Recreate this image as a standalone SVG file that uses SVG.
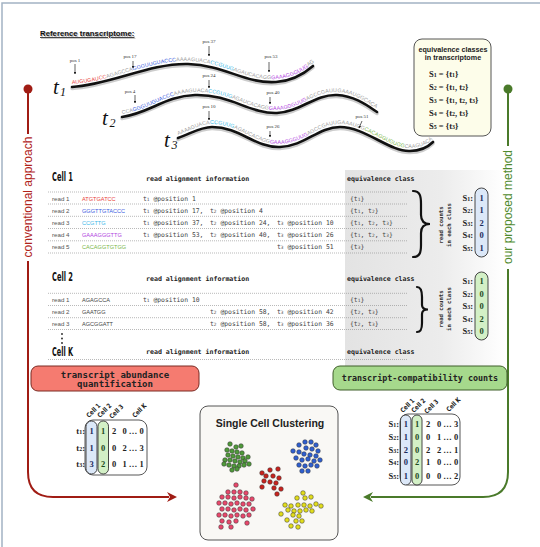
<svg xmlns="http://www.w3.org/2000/svg" width="540" height="547" viewBox="0 0 540 547">
<defs>
<style>
.seq{font-family:"Liberation Sans",Arial,sans-serif;font-size:5.3px;letter-spacing:0.1px;fill:#a0a0a0}
.pos{font-family:"Liberation Serif",serif;font-size:5px;fill:#333;text-anchor:middle}
.parr{stroke:#222;stroke-width:0.7;fill:none;marker-end:url(#sa)}
.tl{font-family:"Liberation Serif",serif;font-style:italic;fill:#111}
.curve{fill:none;stroke:#111;stroke-width:2.6;stroke-linecap:round}
.shadow{fill:none;stroke:#aaa;stroke-width:3.5;stroke-linecap:round;opacity:0.6}
.mono{font-family:"DejaVu Sans Mono","Liberation Mono",monospace;font-size:6.4px;fill:#444}
.hd{font-family:"DejaVu Sans Mono","Liberation Mono",monospace;font-size:6.6px;font-weight:bold;fill:#222}
.cell{font-family:"DejaVu Sans Condensed","DejaVu Sans",sans-serif;font-stretch:condensed;font-weight:bold;font-size:12px;fill:#111}
.rd{font-family:"Liberation Sans",Arial,sans-serif;font-size:6.2px;fill:#555}
.rs{font-family:"Liberation Sans",Arial,sans-serif;font-size:5.6px}
.dl{stroke:#8a8a8a;stroke-width:0.6;stroke-dasharray:1 1;fill:none}
.sub{font-size:70%}
.sv{font-family:"Liberation Serif",serif;font-weight:bold;font-size:8.5px;fill:#222}
.svc{font-family:"Liberation Serif",serif;font-weight:bold;font-size:8.5px;text-anchor:middle}
.rc{font-family:"DejaVu Sans Mono","Liberation Mono",monospace;font-weight:bold;font-size:5.6px;fill:#333;text-anchor:middle}
.brace{fill:none;stroke:#111;stroke-width:2.2;stroke-linecap:round}
.pillb{fill:#dce8f8;stroke:#333;stroke-width:0.9}
.pillg{fill:#d3f0c6;stroke:#333;stroke-width:0.9}
.mtx{fill:#fff;stroke:#444;stroke-width:0.9}
.cl{font-family:"DejaVu Sans Condensed","DejaVu Sans",sans-serif;font-stretch:condensed;font-weight:bold;font-size:6.5px;fill:#222}
.side{font-family:"Liberation Sans",Arial,sans-serif;font-size:12px;text-anchor:middle}
.box{font-family:"DejaVu Sans Mono","Liberation Mono",monospace;font-weight:bold;fill:#222;text-anchor:middle}
.g{fill:#4f9a3a}.b{fill:#2f5fd0}.r{fill:#c8231e}.p{fill:#e9486c}.y{fill:#e2dd1c}
.dots circle{r:2.3px;stroke:#333;stroke-width:0.5}
</style>
<marker id="sa" viewBox="0 0 6 6" refX="5" refY="3" markerWidth="4" markerHeight="4" orient="auto"><path d="M0,0 L6,3 L0,6 z" fill="#222"/></marker>
<marker id="ar" viewBox="0 0 10 10" refX="2" refY="5" markerWidth="5" markerHeight="5" orient="auto"><path d="M0,0 L10,5 L0,10 L3,5 z" fill="#a01c14"/></marker>
<marker id="ag" viewBox="0 0 10 10" refX="2" refY="5" markerWidth="5" markerHeight="5" orient="auto"><path d="M0,0 L10,5 L0,10 L3,5 z" fill="#4a7a2a"/></marker>
<linearGradient id="gp" x1="0" y1="0" x2="1" y2="0"><stop offset="0" stop-color="#e3e3e3"/><stop offset="0.6" stop-color="#ececec"/><stop offset="1" stop-color="#ffffff"/></linearGradient>
<path id="tp1" d="M72,84 C110,82 150,60 188,61 C225,62 245,81 276,79 C293,78 305,70 313,63"/>
<path id="tp2" d="M122,114 C150,110 165,93 195,92 C230,91 250,111 277,110 C300,109 315,91 337,92 C355,93 368,103 377,109"/>
<path id="tp3" d="M178,135 C190,131 200,124 212,124 C240,124 255,145 280,144 C305,143 318,124 340,124 C365,124 390,149 410,148 C420,148 428,144 433,139"/>
</defs>

<rect width="540" height="547" fill="#fff"/>
<path d="M2,547 V3 H540" fill="none" stroke="#a3b3c4" stroke-width="1.5"/>
<rect x="345" y="170" width="160" height="196" fill="url(#gp)"/>

<g id="reference">
<text x="41" y="37" font-family="Liberation Sans,Arial,sans-serif" font-size="7.8" font-weight="bold" fill="#bbb" text-decoration="underline">Reference transcriptome:</text>
<text x="40" y="36" font-family="Liberation Sans,Arial,sans-serif" font-size="7.8" font-weight="bold" fill="#111" text-decoration="underline">Reference transcriptome:</text>
</g>

<g id="t1">
<path class="shadow" d="M72,88.5 C110,86.5 150,64.5 188,65.5 C225,66.5 245,85.5 276,83.5 C293,82.5 305,74.5 313,67.5"/>
<path class="curve" d="M72,87 C110,85 150,63 188,64 C225,65 245,84 276,82 C293,81 305,73 313,66"/>
<text class="seq"><textPath href="#tp1"><tspan fill="#e8403a">AUGUGAUCC</tspan>AGAGCCA<tspan fill="#3a5be0">GGGUUGUACCC</tspan>AAAAGUACA<tspan fill="#3bb8e8">CCGUUG</tspan>AGAUCACAGG<tspan fill="#b03ee0">GAAAGGGUUG</tspan>AGC</textPath></text>
<text class="tl" x="53" y="94" font-size="21">t</text><text class="tl" x="60" y="96" font-size="12" font-style="normal">1</text>
</g>
<g id="t2">
<path class="shadow" d="M122,118.5 C150,114.5 165,97.5 195,96.5 C230,95.5 250,115.5 277,114.5 C300,113.5 315,95.5 337,96.5 C355,97.5 368,107.5 377,113.5"/>
<path class="curve" d="M122,117 C150,113 165,96 195,95 C230,94 250,114 277,113 C300,112 315,94 337,95 C355,96 368,106 377,112"/>
<text class="seq"><textPath href="#tp2">CCA<tspan fill="#3a5be0">GGGUUGUACCC</tspan>AAAAGUACA<tspan fill="#3bb8e8">CCGUUG</tspan>AGAUCACAGG<tspan fill="#b03ee0">GAAAGGGUUG</tspan>AGCCGAUUGAAAUGGCACAGG</textPath></text>
<text class="tl" x="102" y="125" font-size="21">t</text><text class="tl" x="109.5" y="127" font-size="12" font-style="normal">2</text>
</g>
<g id="t3">
<path class="shadow" d="M178,139.5 C190,135.5 200,128.5 212,128.5 C240,128.5 255,149.5 280,148.5 C305,147.5 318,128.5 340,128.5 C365,128.5 390,153.5 410,152.5 C420,152.5 428,148.5 433,143.5"/>
<path class="curve" d="M178,138 C190,134 200,127 212,127 C240,127 255,148 280,147 C305,146 318,127 340,127 C365,127 390,152 410,151 C420,151 428,147 433,142"/>
<text class="seq"><textPath href="#tp3">AAAAGUACA<tspan fill="#3bb8e8">CCGUUG</tspan>AGAUCACAGG<tspan fill="#b03ee0">GAAAGGGUUG</tspan>AGCCGAUUGAAAUGG<tspan fill="#7ab648">CACAGGUGUGG</tspan>CAAGUACAA</textPath></text>
<text class="tl" x="164" y="147" font-size="21">t</text><text class="tl" x="171.5" y="149" font-size="12" font-style="normal">3</text>
</g>

<g id="positions">
<text class="pos" x="75" y="62">pos 1</text><path class="parr" d="M75,64 V74"/>
<text class="pos" x="130" y="58">pos 17</text><path class="parr" d="M133,61 V68"/>
<text class="pos" x="209" y="43">pos 37</text><path class="parr" d="M209,46 V56"/>
<text class="pos" x="271" y="58">pos 53</text><path class="parr" d="M269,62 V72"/>
<text class="pos" x="130" y="93">pos 4</text><path class="parr" d="M135,95 V103"/>
<text class="pos" x="209" y="77">pos 24</text><path class="parr" d="M209,80 V88"/>
<text class="pos" x="273" y="94">pos 40</text><path class="parr" d="M270,97 V104"/>
<text class="pos" x="209" y="108">pos 10</text><path class="parr" d="M209,111 V120"/>
<text class="pos" x="273" y="128">pos 26</text><path class="parr" d="M270,131 V137"/>
<text class="pos" x="362" y="118">pos 51</text><path class="parr" d="M362,121 L359,128"/>
</g>

<g id="eqbox">
<rect x="414" y="39" width="77" height="97" rx="8" fill="#fdfdea" stroke="#555" stroke-width="1"/>
<text x="453" y="52" text-anchor="middle" font-family="Liberation Sans,Arial,sans-serif" font-weight="bold" font-size="7.2" fill="#222">equivalence classes</text>
<text x="453" y="60" text-anchor="middle" font-family="Liberation Sans,Arial,sans-serif" font-weight="bold" font-size="7.2" fill="#222">in transcriptome</text>
<text class="sv" x="429" y="77">S<tspan class="sub">1</tspan> = {t<tspan class="sub">1</tspan>}</text>
<text class="sv" x="429" y="90">S<tspan class="sub">2</tspan> = {t<tspan class="sub">1</tspan>, t<tspan class="sub">2</tspan>}</text>
<text class="sv" x="429" y="102.5">S<tspan class="sub">3</tspan> = {t<tspan class="sub">1</tspan>, t<tspan class="sub">2</tspan>, t<tspan class="sub">3</tspan>}</text>
<text class="sv" x="429" y="115.5">S<tspan class="sub">4</tspan> = {t<tspan class="sub">2</tspan>, t<tspan class="sub">3</tspan>}</text>
<text class="sv" x="429" y="128.5">S<tspan class="sub">5</tspan> = {t<tspan class="sub">3</tspan>}</text>
</g>

<g id="connectors">
<circle cx="28" cy="89" r="4.5" fill="#a01c14"/>
<path d="M28,89 V134 M28,261 V472 Q28,497 53,497 H169" fill="none" stroke="#a01c14" stroke-width="2" marker-end="url(#ar)"/>
<circle cx="508" cy="89" r="4.5" fill="#4a7a2a"/>
<path d="M508,89 V146 M508,269 V472 Q508,497 483,497 H371" fill="none" stroke="#4a7a2a" stroke-width="2" marker-end="url(#ag)"/>
</g>
<text class="side" fill="#b0231a" transform="translate(32,197) rotate(-90)">conventional approach</text>
<text class="side" fill="#4f8a2e" transform="translate(512,207) rotate(-90)">our proposed method</text>

<g id="cell1">
<text class="cell" x="52" y="181" textLength="21" lengthAdjust="spacingAndGlyphs">Cell 1</text>
<text class="hd" x="146" y="181">read alignment information</text>
<text class="hd" x="347" y="181">equivalence class</text>
<path class="dl" d="M48,192 H407 M48,204 H407 M48,216.3 H407 M48,228.5 H407 M48,240.8 H407 M48,253 H407"/>
<text class="rd" x="52" y="200.5">read 1</text><text class="rs" x="82" y="200.5" fill="#e8403a">ATGTGATCC</text>
<text class="rd" x="52" y="212.5">read 2</text><text class="rs" x="82" y="212.5" fill="#3a5be0">GGGTTGTACCC</text>
<text class="rd" x="52" y="224.8">read 3</text><text class="rs" x="82" y="224.8" fill="#3bb8e8">CCGTTG</text>
<text class="rd" x="52" y="237">read 4</text><text class="rs" x="82" y="237" fill="#b03ee0">GAAAGGGTTG</text>
<text class="rd" x="52" y="249.3">read 5</text><text class="rs" x="82" y="249.3" fill="#7ab648">CACAGGTGTGG</text>
<text class="mono" x="143" y="200.5">t<tspan class="sub">1</tspan> @position 1</text>
<text class="mono" x="143" y="212.5">t<tspan class="sub">1</tspan> @position 17,</text><text class="mono" x="210" y="212.5">t<tspan class="sub">2</tspan> @position 4</text>
<text class="mono" x="143" y="224.8">t<tspan class="sub">1</tspan> @position 37,</text><text class="mono" x="210" y="224.8">t<tspan class="sub">2</tspan> @position 24,</text><text class="mono" x="277" y="224.8">t<tspan class="sub">3</tspan> @position 10</text>
<text class="mono" x="143" y="237">t<tspan class="sub">1</tspan> @position 53,</text><text class="mono" x="210" y="237">t<tspan class="sub">2</tspan> @position 40,</text><text class="mono" x="277" y="237">t<tspan class="sub">3</tspan> @position 26</text>
<text class="mono" x="277" y="249.3">t<tspan class="sub">3</tspan> @position 51</text>
<text class="mono" x="350" y="200.5">{t<tspan class="sub">1</tspan>}</text>
<text class="mono" x="350" y="212.5">{t<tspan class="sub">1</tspan>, t<tspan class="sub">2</tspan>}</text>
<text class="mono" x="350" y="224.8">{t<tspan class="sub">1</tspan>, t<tspan class="sub">2</tspan>, t<tspan class="sub">3</tspan>}</text>
<text class="mono" x="350" y="237">{t<tspan class="sub">1</tspan>, t<tspan class="sub">2</tspan>, t<tspan class="sub">3</tspan>}</text>
<text class="mono" x="350" y="249.3">{t<tspan class="sub">3</tspan>}</text>
<path class="brace" d="M413,191 C420,191 421,196 421,204 L421,215 C421,221 424,224 430,224 C424,224 421,227 421,233 L421,245 C421,252 420,257 413,257"/>
<text class="rc" transform="translate(443,225) rotate(-90)">read counts</text>
<text class="rc" transform="translate(451,225) rotate(-90)">in each class</text>
<rect class="pillb" x="475" y="188" width="13" height="69" rx="6.5"/>
<text class="sv" x="473" y="200.5" text-anchor="end">S<tspan class="sub">1</tspan>:</text>
<text class="sv" x="473" y="213" text-anchor="end">S<tspan class="sub">2</tspan>:</text>
<text class="sv" x="473" y="225.5" text-anchor="end">S<tspan class="sub">3</tspan>:</text>
<text class="sv" x="473" y="238" text-anchor="end">S<tspan class="sub">4</tspan>:</text>
<text class="sv" x="473" y="250.5" text-anchor="end">S<tspan class="sub">5</tspan>:</text>
<g class="svc" fill="#1c2c5c"><text x="481.5" y="200.5">1</text><text x="481.5" y="213">1</text><text x="481.5" y="225.5">2</text><text x="481.5" y="238">0</text><text x="481.5" y="250.5">1</text></g>
</g>

<g id="cell2">
<text class="cell" x="52" y="281" textLength="21" lengthAdjust="spacingAndGlyphs">Cell 2</text>
<text class="hd" x="146" y="281">read alignment information</text>
<text class="hd" x="347" y="281">equivalence class</text>
<path class="dl" d="M48,293.3 H407 M48,305.5 H407 M48,317.7 H407 M48,329.5 H407"/>
<text class="rd" x="52" y="301.5">read 1</text><text class="rs" x="82" y="301.5" fill="#444">AGAGCCA</text>
<text class="rd" x="52" y="313.5">read 2</text><text class="rs" x="82" y="313.5" fill="#444">GAATGG</text>
<text class="rd" x="52" y="325.5">read 3</text><text class="rs" x="82" y="325.5" fill="#444">AGCGGATT</text>
<text class="mono" x="143" y="301.5">t<tspan class="sub">1</tspan> @position 10</text>
<text class="mono" x="210" y="313.5">t<tspan class="sub">2</tspan> @position 58,</text><text class="mono" x="277" y="313.5">t<tspan class="sub">3</tspan> @position 42</text>
<text class="mono" x="210" y="325.5">t<tspan class="sub">2</tspan> @position 58,</text><text class="mono" x="277" y="325.5">t<tspan class="sub">3</tspan> @position 36</text>
<text class="mono" x="350" y="301.5">{t<tspan class="sub">1</tspan>}</text>
<text class="mono" x="350" y="313.5">{t<tspan class="sub">2</tspan>, t<tspan class="sub">3</tspan>}</text>
<text class="mono" x="350" y="325.5">{t<tspan class="sub">2</tspan>, t<tspan class="sub">3</tspan>}</text>
<path class="brace" d="M417,287 C421,287 422,291 422,297 L422,305 C422,308 424,309.5 428,309.5 C424,309.5 422,311 422,314 L422,323 C422,329 421,332 417,332"/>
<text class="rc" transform="translate(443,309) rotate(-90)">read counts</text>
<text class="rc" transform="translate(451,309) rotate(-90)">in each class</text>
<rect class="pillg" x="475" y="272" width="13" height="68" rx="6.5"/>
<text class="sv" x="473" y="284" text-anchor="end">S<tspan class="sub">1</tspan>:</text>
<text class="sv" x="473" y="296.5" text-anchor="end">S<tspan class="sub">2</tspan>:</text>
<text class="sv" x="473" y="309" text-anchor="end">S<tspan class="sub">3</tspan>:</text>
<text class="sv" x="473" y="321.5" text-anchor="end">S<tspan class="sub">4</tspan>:</text>
<text class="sv" x="473" y="334" text-anchor="end">S<tspan class="sub">5</tspan>:</text>
<g class="svc" fill="#1e4a1e"><text x="481.5" y="284">1</text><text x="481.5" y="296.5">0</text><text x="481.5" y="309">0</text><text x="481.5" y="321.5">2</text><text x="481.5" y="334">0</text></g>
<g fill="#222"><circle cx="62" cy="334" r="0.9"/><circle cx="62" cy="338.5" r="0.9"/><circle cx="62" cy="343" r="0.9"/></g>
</g>

<g id="cellK">
<text class="cell" x="52" y="356" textLength="21" lengthAdjust="spacingAndGlyphs">Cell K</text>
<text class="hd" x="146" y="354">read alignment information</text>
<text class="hd" x="347" y="354">equivalence class</text>
<path class="dl" d="M48,359.5 H407"/>
</g>

<g id="abundance">
<rect x="31" y="366" width="168" height="25" rx="7" fill="#f57b70" stroke="#7a2a22" stroke-width="1"/>
<text class="box" x="115" y="377.5" font-size="9">transcript abundance</text>
<text class="box" x="115" y="386.5" font-size="9">quantification</text>
</g>

<g id="tcc">
<rect x="333" y="366" width="174" height="24" rx="7" fill="#a6d98c" stroke="#3f5f2a" stroke-width="1"/>
<text class="box" x="420" y="381" font-size="8.4">transcript-compatibility counts</text>
</g>

<g id="matrix-left">
<text class="cl" transform="translate(89,418) rotate(-45)" textLength="17" lengthAdjust="spacingAndGlyphs">Cell 1</text>
<text class="cl" transform="translate(100,418) rotate(-45)" textLength="17" lengthAdjust="spacingAndGlyphs">Cell 2</text>
<text class="cl" transform="translate(112,419) rotate(-45)" textLength="17" lengthAdjust="spacingAndGlyphs">Cell 3</text>
<text class="cl" transform="translate(135,418) rotate(-45)" textLength="17" lengthAdjust="spacingAndGlyphs">Cell K</text>
<rect class="mtx" x="85" y="420" width="62" height="55" rx="8"/>
<rect class="pillb" x="86" y="421" width="11" height="53" rx="5.5"/>
<rect class="pillg" x="98" y="421" width="10.5" height="53" rx="5.2"/>
<text class="sv" x="85" y="434" text-anchor="end">t<tspan class="sub">1</tspan>:</text>
<text class="sv" x="85" y="451" text-anchor="end">t<tspan class="sub">2</tspan>:</text>
<text class="sv" x="85" y="467" text-anchor="end">t<tspan class="sub">3</tspan>:</text>
<g class="svc" fill="#1c2c5c"><text x="91.5" y="434">1</text><text x="91.5" y="451">1</text><text x="91.5" y="467">3</text></g>
<g class="svc" fill="#1e4a1e"><text x="103.2" y="434">1</text><text x="103.2" y="451">0</text><text x="103.2" y="467">2</text></g>
<g class="svc" fill="#222"><text x="114" y="434">2</text><text x="114" y="451">0</text><text x="114" y="467">0</text>
<text x="133" y="434">0 … 0</text><text x="133" y="451">2 … 3</text><text x="133" y="467">1 … 1</text></g>
</g>

<g id="matrix-right">
<text class="cl" transform="translate(403,413) rotate(-45)" textLength="17" lengthAdjust="spacingAndGlyphs">Cell 1</text>
<text class="cl" transform="translate(414,413) rotate(-45)" textLength="17" lengthAdjust="spacingAndGlyphs">Cell 2</text>
<text class="cl" transform="translate(427,414) rotate(-45)" textLength="17" lengthAdjust="spacingAndGlyphs">Cell 3</text>
<text class="cl" transform="translate(449,412) rotate(-45)" textLength="17" lengthAdjust="spacingAndGlyphs">Cell K</text>
<rect class="mtx" x="400" y="414" width="60" height="71" rx="8"/>
<rect class="pillb" x="400.5" y="415" width="10.5" height="70" rx="5.2"/>
<rect class="pillg" x="412" y="415" width="10" height="70" rx="5"/>
<text class="sv" x="399" y="427" text-anchor="end">S<tspan class="sub">1</tspan>:</text>
<text class="sv" x="399" y="440" text-anchor="end">S<tspan class="sub">2</tspan>:</text>
<text class="sv" x="399" y="453" text-anchor="end">S<tspan class="sub">3</tspan>:</text>
<text class="sv" x="399" y="465" text-anchor="end">S<tspan class="sub">4</tspan>:</text>
<text class="sv" x="399" y="479" text-anchor="end">S<tspan class="sub">5</tspan>:</text>
<g class="svc" fill="#1c2c5c"><text x="405.8" y="427">1</text><text x="405.8" y="440">1</text><text x="405.8" y="453">2</text><text x="405.8" y="465">0</text><text x="405.8" y="479">1</text></g>
<g class="svc" fill="#1e4a1e"><text x="417" y="427">1</text><text x="417" y="440">0</text><text x="417" y="453">0</text><text x="417" y="465">2</text><text x="417" y="479">0</text></g>
<g class="svc" fill="#222"><text x="428" y="427">2</text><text x="428" y="440">0</text><text x="428" y="453">2</text><text x="428" y="465">1</text><text x="428" y="479">0</text>
<text x="447.5" y="427">0 … 3</text><text x="447.5" y="440">1 … 0</text><text x="447.5" y="453">2 … 1</text><text x="447.5" y="465">0 … 0</text><text x="447.5" y="479">0 … 2</text></g>
</g>

<g id="clustering">
<rect x="200" y="406" width="138" height="134" rx="8" fill="#f9f8f5" stroke="#555" stroke-width="1"/>
<text x="270" y="427" text-anchor="middle" font-family="Liberation Sans,Arial,sans-serif" font-weight="bold" font-size="10.5" fill="#222">Single Cell Clustering</text>
<g class="dots">
<g class="g"><circle cx="230" cy="444"/><circle cx="236" cy="447"/><circle cx="241" cy="446"/><circle cx="227" cy="450"/><circle cx="232" cy="451"/><circle cx="237" cy="452"/><circle cx="242" cy="453"/><circle cx="228" cy="455"/><circle cx="233" cy="456"/><circle cx="238" cy="457"/><circle cx="243" cy="458"/><circle cx="248" cy="457"/><circle cx="225" cy="460"/><circle cx="230" cy="460"/><circle cx="235" cy="461"/><circle cx="240" cy="462"/><circle cx="245" cy="461"/><circle cx="249" cy="464"/><circle cx="229" cy="465"/><circle cx="234" cy="466"/><circle cx="239" cy="466"/><circle cx="244" cy="465"/><circle cx="224" cy="464"/><circle cx="232" cy="470"/><circle cx="237" cy="469"/></g>
<g class="b"><circle cx="305" cy="442"/><circle cx="311" cy="442"/><circle cx="299" cy="445"/><circle cx="316" cy="445"/><circle cx="306" cy="448"/><circle cx="312" cy="449"/><circle cx="293" cy="451"/><circle cx="299" cy="452"/><circle cx="318" cy="451"/><circle cx="304" cy="454"/><circle cx="310" cy="455"/><circle cx="316" cy="456"/><circle cx="296" cy="458"/><circle cx="302" cy="460"/><circle cx="308" cy="459"/><circle cx="314" cy="461"/><circle cx="320" cy="460"/><circle cx="299" cy="465"/><circle cx="305" cy="466"/><circle cx="311" cy="465"/><circle cx="317" cy="466"/><circle cx="302" cy="471"/><circle cx="308" cy="471"/></g>
<g class="r"><circle cx="262" cy="473"/><circle cx="270" cy="470"/><circle cx="278" cy="469"/><circle cx="266" cy="476"/><circle cx="273" cy="476"/><circle cx="279" cy="478"/><circle cx="264" cy="481"/><circle cx="270" cy="482"/><circle cx="276" cy="483"/><circle cx="262" cy="487"/><circle cx="274" cy="488"/><circle cx="281" cy="489"/><circle cx="277" cy="494"/></g>
<g class="p"><circle cx="236" cy="485"/><circle cx="228" cy="492"/><circle cx="234" cy="492"/><circle cx="240" cy="492"/><circle cx="246" cy="493"/><circle cx="222" cy="497"/><circle cx="228" cy="497"/><circle cx="234" cy="498"/><circle cx="240" cy="497"/><circle cx="246" cy="498"/><circle cx="252" cy="499"/><circle cx="219" cy="503"/><circle cx="225" cy="503"/><circle cx="231" cy="504"/><circle cx="237" cy="503"/><circle cx="243" cy="504"/><circle cx="249" cy="504"/><circle cx="222" cy="509"/><circle cx="228" cy="509"/><circle cx="234" cy="510"/><circle cx="240" cy="509"/><circle cx="246" cy="510"/><circle cx="253" cy="509"/><circle cx="219" cy="515"/><circle cx="225" cy="515"/><circle cx="231" cy="516"/><circle cx="237" cy="515"/><circle cx="243" cy="516"/><circle cx="249" cy="515"/><circle cx="222" cy="521"/><circle cx="229" cy="522"/><circle cx="236" cy="521"/><circle cx="247" cy="523"/><circle cx="231" cy="527"/><circle cx="221" cy="527"/></g>
<g class="y"><circle cx="303" cy="493"/><circle cx="297" cy="498"/><circle cx="305" cy="498"/><circle cx="311" cy="497"/><circle cx="285" cy="505"/><circle cx="291" cy="506"/><circle cx="298" cy="505"/><circle cx="304" cy="505"/><circle cx="310" cy="506"/><circle cx="316" cy="504"/><circle cx="321" cy="506"/><circle cx="288" cy="510"/><circle cx="294" cy="511"/><circle cx="300" cy="511"/><circle cx="306" cy="510"/><circle cx="312" cy="511"/><circle cx="281" cy="514"/><circle cx="293" cy="515"/><circle cx="299" cy="516"/><circle cx="287" cy="520"/><circle cx="296" cy="521"/><circle cx="302" cy="521"/><circle cx="291" cy="526"/><circle cx="298" cy="527"/></g>
</g>
</g>
</svg>
